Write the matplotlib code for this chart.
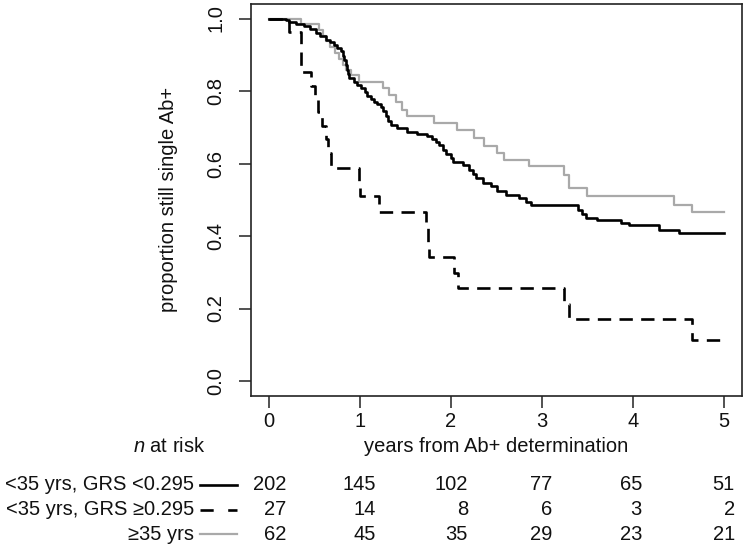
import matplotlib
matplotlib.use("Agg")
import matplotlib.pyplot as plt
from matplotlib.lines import Line2D
import matplotlib.transforms as mtransforms

plt.rcParams['font.family'] = ['Liberation Sans', 'DejaVu Sans']
plt.rcParams['mathtext.fontset'] = 'custom'
plt.rcParams['mathtext.it'] = 'Liberation Sans:italic'
plt.rcParams['mathtext.rm'] = 'Liberation Sans'

# ---------------- data ----------------
group_labels = ["<35 yrs, GRS <0.295", "<35 yrs, GRS \u22650.295", "\u226535 yrs"]

# Kaplan-Meier step points (time in years, survival proportion)
low_t = [0, 0.18, 0.22, 0.30, 0.385, 0.45, 0.51, 0.56, 0.62, 0.67, 0.715, 0.75, 0.79,
         0.81, 0.825, 0.845, 0.86, 0.87, 0.88, 0.935, 0.97, 1.01, 1.05, 1.08, 1.12,
         1.155, 1.19, 1.23, 1.25, 1.28, 1.31, 1.34, 1.41, 1.52, 1.63, 1.74, 1.79, 1.83,
         1.87, 1.91, 1.94, 2.00, 2.02, 2.13, 2.20, 2.24, 2.27, 2.35, 2.44, 2.51, 2.60,
         2.75, 2.82, 2.88, 3.40, 3.44, 3.48, 3.61, 3.87, 3.96, 4.29, 4.51, 5.0]
low_s = [1.0, 0.995, 0.99, 0.985, 0.978, 0.97, 0.96, 0.951, 0.941, 0.934, 0.927, 0.918, 0.909,
         0.897, 0.886, 0.872, 0.858, 0.846, 0.835, 0.826, 0.817, 0.808, 0.797, 0.785, 0.778,
         0.771, 0.764, 0.757, 0.745, 0.73, 0.718, 0.707, 0.697, 0.688, 0.682, 0.676, 0.668, 0.66,
         0.651, 0.638, 0.625, 0.616, 0.605, 0.596, 0.582, 0.57, 0.559, 0.546, 0.538, 0.523, 0.513,
         0.504, 0.495, 0.486, 0.472, 0.46, 0.449, 0.443, 0.437, 0.431, 0.417, 0.409, 0.409]

high_t = [0, 0.22, 0.35, 0.46, 0.50, 0.54, 0.585, 0.62, 0.65, 0.68, 0.99, 1.00, 1.21,
          1.73, 1.745, 1.76, 2.035, 2.08, 3.24, 3.30, 4.65, 5.0]
high_s = [1.0, 0.963, 0.852, 0.815, 0.778, 0.741, 0.704, 0.667, 0.630, 0.587, 0.548, 0.509, 0.467,
          0.425, 0.383, 0.341, 0.298, 0.256, 0.213, 0.171, 0.114, 0.114]

old_t = [0, 0.35, 0.55, 0.59, 0.62, 0.67, 0.72, 0.77, 0.81, 0.84, 0.90, 0.99, 1.25, 1.32,
         1.39, 1.46, 1.52, 1.81, 2.07, 2.255, 2.365, 2.51, 2.585, 2.86, 3.245, 3.30, 3.49,
         4.455, 4.65, 5.0]
old_s = [1.0, 0.985, 0.969, 0.953, 0.937, 0.921, 0.905, 0.889, 0.873, 0.857, 0.845, 0.826, 0.808, 0.789,
         0.771, 0.748, 0.73, 0.711, 0.693, 0.670, 0.649, 0.628, 0.61, 0.592, 0.569, 0.532, 0.509,
         0.486, 0.465, 0.465]

risk_times = [0, 1, 2, 3, 4, 5]
risk_low = [202, 145, 102, 77, 65, 51]
risk_high = [27, 14, 8, 6, 3, 2]
risk_old = [62, 45, 35, 29, 23, 21]

x_ticks = [0, 1, 2, 3, 4, 5]
y_ticks = [0.0, 0.2, 0.4, 0.6, 0.8, 1.0]
y_ticklabels = ["0.0", "0.2", "0.4", "0.6", "0.8", "1.0"]

# ---------------- figure ----------------
W, H = 746, 548
fig = plt.figure(figsize=(W / 100, H / 100), dpi=100)

def fx(px):
    return px / W

def fy(py):
    return 1 - py / H

ax_l, ax_r, ax_t, ax_b = 251, 742, 4, 395.5
ax = fig.add_axes([fx(ax_l), fy(ax_b), (ax_r - ax_l) / W, (ax_b - ax_t) / H])

FS = 14.5
gray = '#a9a9a9'
lw_black = 1.9
lw_gray = 1.6
dash_style = (0, (9.6 / lw_black, 6.0 / lw_black))

ax.step(old_t, old_s, where='post', color=gray, lw=lw_gray, zorder=2)
ax.step(low_t, low_s, where='post', color='black', lw=lw_black, zorder=3)
ax.step(high_t, high_s, where='post', color='black', lw=lw_black, linestyle=dash_style,
        zorder=3, dash_capstyle='butt')

ax.set_xlim(-0.2, 5.2)
ax.set_ylim(-0.04, 1.04)
ax.set_xticks(x_ticks)
ax.set_xticklabels([str(v) for v in x_ticks])
ax.set_yticks(y_ticks)
ax.set_yticklabels(y_ticklabels, rotation=90, va='center')

for sp in ax.spines.values():
    sp.set_linewidth(1.2)
    sp.set_color('#222222')

ax.tick_params(axis='both', length=8.6, width=1.1, color='#222222', labelsize=FS,
               labelcolor='#111111')
ax.tick_params(axis='x', pad=3)
ax.tick_params(axis='y', pad=10)

# axis titles
fig.text(fx(168), fy(199.5), "proportion still single Ab+", rotation=90,
         ha='center', va='center', fontsize=FS, color='#111111')
fig.text(fx(496), fy(447), "years from Ab+ determination", ha='center', va='center',
         fontsize=FS, color='#111111')
fig.text(fx(169), fy(447), "$n$ at risk", ha='center', va='center', fontsize=FS,
         color='#111111')

# risk table
row_y = [485, 509.5, 534]
row_vals = [risk_low, risk_high, risk_old]
row_styles = [dict(color='black', lw=lw_black, linestyle='-'),
              dict(color='black', lw=lw_black, linestyle=(0, (5.0, 5.5))),
              dict(color=gray, lw=lw_gray, linestyle='-')]
col_offsets_px = [17, 16, 17, 10, 9, 11]

for i in range(3):
    fig.text(fx(194), fy(row_y[i]), group_labels[i], ha='right', va='center',
             fontsize=FS, color='#111111')
    fig.add_artist(Line2D([fx(200), fx(237)], [fy(row_y[i]), fy(row_y[i])],
                          transform=fig.transFigure, dash_capstyle='butt',
                          **row_styles[i]))
    for j, t in enumerate(risk_times):
        trans = mtransforms.blended_transform_factory(ax.transData, fig.transFigure)
        off = mtransforms.ScaledTranslation(col_offsets_px[j] / 100, 0, fig.dpi_scale_trans)
        fig.text(t, fy(row_y[i]), str(row_vals[i][j]), transform=trans + off,
                 ha='right', va='center', fontsize=FS, color='#111111')

fig.savefig("out.png", dpi=100)
